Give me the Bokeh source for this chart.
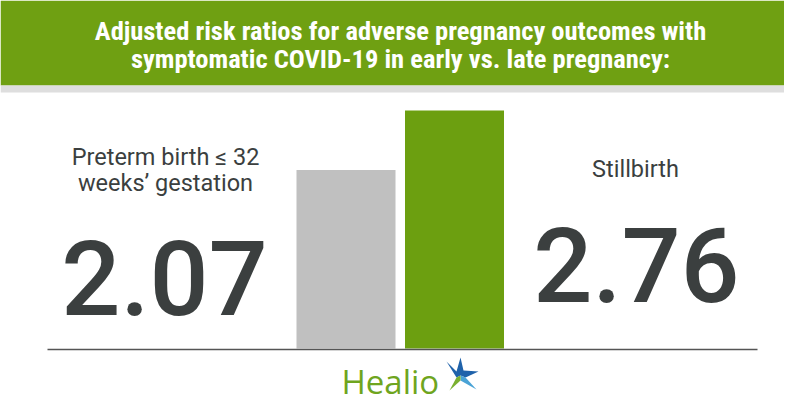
from bokeh.plotting import figure
from bokeh.models import Range1d
from bokeh.core.properties import value
from bokeh.embed import file_html
from bokeh.resources import INLINE

# ---- data ----
title_lines = ["Adjusted risk ratios for adverse pregnancy outcomes with",
               "symptomatic COVID-19 in early vs. late pregnancy:"]
outcomes = ["Preterm birth ≤ 32\nweeks’ gestation", "Stillbirth"]
risk_ratios = [2.07, 2.76]
value_labels = ["2.07", "2.76"]
bar_colors = ["#c0c0c0", "#6c9f10"]
brand = "Healio"

# ---- layout (pixel coordinates, origin top-left) ----
W, H = 784, 404
BASE_Y = 348          # y of the bar baseline
TOP_Y = 110           # y of the tallest bar top
ppu = (BASE_Y - TOP_Y) / max(risk_ratios)
DESC = 0.35           # empirical baseline correction (fraction of font size)

def py(yp):
    return (BASE_Y - yp) / ppu

def tb(baseline, size):
    # place text so its visible baseline lands at `baseline`
    return py(baseline - DESC * size)

p = figure(width=W, height=H, output_backend="svg", toolbar_location=None,
           x_range=Range1d(0, W), y_range=Range1d(py(H), py(0)),
           x_axis_location=None, y_axis_location=None, min_border=0,
           background_fill_color="white", border_fill_color="white")
p.outline_line_color = None
p.xgrid.visible = False
p.ygrid.visible = False

# header band
p.quad(left=[0], right=[W], top=[py(0)], bottom=[py(85)], fill_color="#6fa012", line_color=None)
p.quad(left=[0], right=[W], top=[py(85)], bottom=[py(92)], fill_color="#dedede", line_color=None)

title_font = value("'Roboto Condensed', 'Liberation Sans Narrow', 'Arial Narrow', Roboto")
TS = 26.5
p.text(x=[400, 400], y=[tb(39, TS), tb(67, TS)], text=title_lines,
       text_font=title_font, text_font_style="bold", text_font_size=f"{TS}px",
       text_color="white", text_align="center", text_baseline="alphabetic")

# bars
bar_w = 99
centers = [345.5, 454]
p.vbar(x=centers, top=risk_ratios, bottom=0, width=bar_w, fill_color=bar_colors, line_color=None)

# baseline
p.segment(x0=[47], x1=[757], y0=[py(349)], y1=[py(349)], line_color="#555555", line_width=1.6)

# outcome labels
label_font = value("Roboto")
LS = 23.5
left_lines = outcomes[0].split("\n")
p.text(x=[165, 165], y=[tb(165, LS), tb(191, LS)], text=left_lines,
       text_font=label_font, text_font_size=f"{LS}px", text_color="#3b3f3f",
       text_align="center", text_baseline="alphabetic")
p.text(x=[635], y=[tb(177, LS)], text=[outcomes[1]],
       text_font=label_font, text_font_size=f"{LS}px", text_color="#3b3f3f",
       text_align="center", text_baseline="alphabetic")

# big values
NS = 104
num_font = value("'Roboto Medium', Roboto")
p.text(x=[164, 636], y=[tb(314, NS), tb(301, NS)], text=value_labels,
       text_font=num_font, text_font_size=f"{NS}px", text_color="#3b3f3f",
       text_align="center", text_baseline="alphabetic")

# logo
BS = 33
p.text(x=[341], y=[tb(393, BS)], text=[brand], text_font=value("Open Sans"),
       text_font_size=f"{BS}px", text_color="#6fa51e", text_align="left",
       text_baseline="alphabetic")
upper_x = [446, 456, 460, 463, 478, 465, 460, 456]
upper_y = [361, 371, 357, 370, 371, 377, 375, 377]
p.patch(x=upper_x, y=[py(v) for v in upper_y], fill_color="#1f62aa", line_color=None)
lr_x = [465, 476, 460, 460]
lr_y = [377, 389, 380, 375]
p.patch(x=lr_x, y=[py(v) for v in lr_y], fill_color="#4aa3d6", line_color=None)
ll_x = [456, 460, 460, 449]
ll_y = [377, 375, 380, 390]
p.patch(x=ll_x, y=[py(v) for v in ll_y], fill_color="#7ab030", line_color=None)

open("out.html", "w").write(file_html(p, INLINE))
